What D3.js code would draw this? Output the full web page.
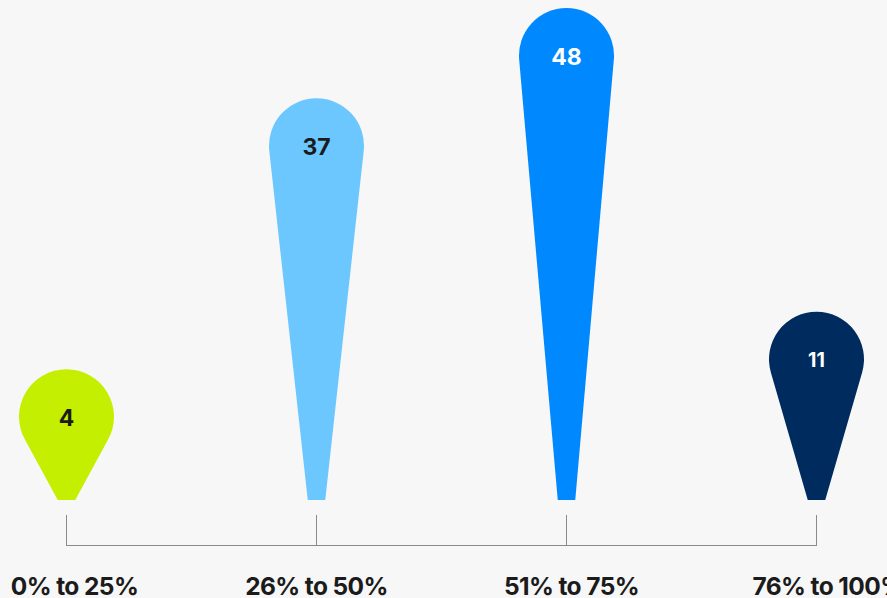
<!DOCTYPE html>
<html>
<head>
<meta charset="utf-8">
<script src="https://cdn.jsdelivr.net/npm/d3@7"></script>
<style>
  html, body { margin: 0; padding: 0; background: #f7f7f7; }
  svg { display: block; }
  text { font-family: Inter, "Noto Sans", sans-serif; font-weight: 700; }
</style>
</head>
<body>
<svg id="chart" width="887" height="598"></svg>
<script>
// Share of respondents by range
const categories = ["0% to 25%", "26% to 50%", "51% to 75%", "76% to 100%"];
const values = [4, 37, 48, 11];
const pinColors = ["#c4ef00", "#6cc7ff", "#0088ff", "#002b5f"];
const valueTextColors = ["#1b1b1b", "#1b1b1b", "#ffffff", "#ffffff"];

const svg = d3.select("#chart");

const x = d3.scalePoint().domain(categories).range([66, 816]);
const y = d3.scaleLinear().domain([0, d3.max(values)]).range([449.5, 55.5]);

const baseY = 500;     // pin tips sit here
const r = 47.5;        // pin head radius
const tipHalf = 8.75;  // half width of the flat tip

// teardrop: circular head with straight tangents down to a flat tip
function pinPath(cx, cy) {
  const dy = baseY - cy;
  const d = Math.hypot(tipHalf, dy);
  const phi = Math.atan2(dy, tipHalf);
  const a = Math.acos(Math.min(1, r / d));
  const tr = [cx + r * Math.cos(phi - a), cy + r * Math.sin(phi - a)];
  const tl = [2 * cx - tr[0], tr[1]];
  return `M${cx - tipHalf},${baseY}L${tl[0]},${tl[1]}` +
         `A${r},${r} 0 1 1 ${tr[0]},${tr[1]}` +
         `L${cx + tipHalf},${baseY}Z`;
}

const pins = svg.append("g").attr("transform", "translate(0.5,0)")
  .selectAll("g")
  .data(categories.map((c, i) => ({ c, v: values[i], i })))
  .join("g");

pins.append("path")
  .attr("d", d => pinPath(x(d.c), y(d.v)))
  .attr("fill", d => pinColors[d.i]);

pins.append("text")
  .attr("x", d => x(d.c))
  .attr("y", d => y(d.v) + 1)
  .attr("dy", "0.36em")
  .attr("text-anchor", "middle")
  .attr("font-size", d => d.v >= 10 && d.v < 20 ? 19.5 : 23)
  .attr("fill", d => valueTextColors[d.i])
  .text(d => d.v);

// bracket-style axis under the pins
const axisG = svg.append("g").attr("transform", "translate(0,545)");
const axis = d3.axisBottom(x).tickSize(-30).tickFormat("").tickSizeOuter(0);
axisG.call(axis);
axisG.select(".domain")
  .attr("d", `M${x.range()[0]},0.5H${x.range()[1] + 1}`)
  .attr("stroke", "#8a8a8a");
axisG.selectAll(".tick line").attr("stroke", "#8a8a8a");

// category labels
const labelNudge = [8, 0, 5, 12];
svg.append("g").selectAll("text")
  .data(categories)
  .join("text")
  .attr("x", (d, i) => x(d) + 0.5 + labelNudge[i])
  .attr("y", 595)
  .attr("text-anchor", "middle")
  .attr("font-size", 24.5)
  .attr("letter-spacing", "-0.6")
  .attr("fill", "#1b1b1b")
  .text(d => d);
</script>
</body>
</html>
